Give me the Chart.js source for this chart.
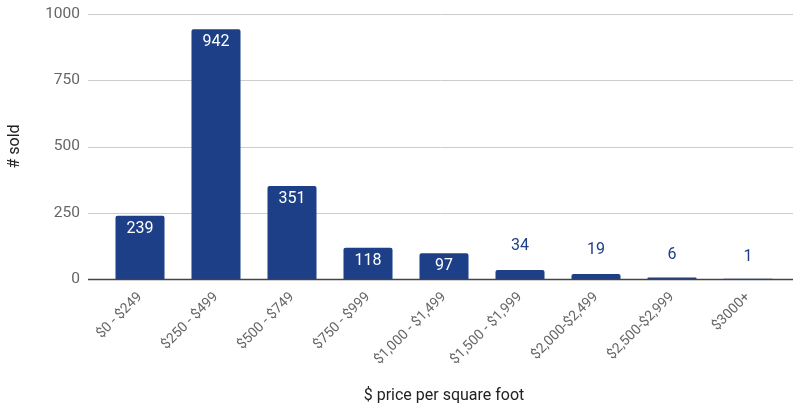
<!DOCTYPE html>
<html>
<head>
<meta charset="utf-8">
<script src="https://cdn.jsdelivr.net/npm/chart.js@4.4.1/dist/chart.umd.min.js"></script>
<style>
  html, body { margin: 0; padding: 0; background: #fff; }
  #wrap { width: 793px; height: 410px; }
</style>
</head>
<body>
<div id="wrap"><canvas id="myChart"></canvas></div>
<script>
// data
var categories = ["$0 - $249", "$250 - $499", "$500 - $749", "$750 - $999", "$1,000 - $1,499",
  "$1,500 - $1,999", "$2,000-$2,499", "$2,500-$2,999", "$3000+"];
var sold = [239, 942, 351, 118, 97, 34, 19, 6, 1];
var yTicks = [0, 250, 500, 750, 1000];

var barColor = "#1c3f87";
var font = "Roboto, 'Noto Sans', sans-serif";

// gridlines run wider than the chart area, like the original
var gridPlugin = {
  id: "grid",
  beforeDatasetsDraw: function (chart) {
    var ctx = chart.ctx, y = chart.scales.y;
    ctx.save();
    ctx.strokeStyle = "#cccccc";
    ctx.lineWidth = 1;
    yTicks.forEach(function (v) {
      if (v === 0) return;
      var py = Math.round(y.getPixelForValue(v)) + 0.5;
      ctx.beginPath();
      ctx.moveTo(88, py);
      ctx.lineTo(793, py);
      ctx.stroke();
    });
    ctx.restore();
  },
  afterDatasetsDraw: function (chart) {
    var ctx = chart.ctx, y = chart.scales.y;
    ctx.save();
    // baseline
    var py = Math.round(y.getPixelForValue(0)) + 0.5;
    ctx.strokeStyle = "#444444";
    ctx.lineWidth = 1.3;
    ctx.beginPath();
    ctx.moveTo(88, py);
    ctx.lineTo(793, py);
    ctx.stroke();
    // value labels
    ctx.font = "16px " + font;
    ctx.textAlign = "center";
    ctx.textBaseline = "middle";
    chart.getDatasetMeta(0).data.forEach(function (bar, i) {
      var h = bar.base - bar.y;
      if (h > 20) {
        ctx.fillStyle = "#ffffff";
        ctx.fillText(sold[i], bar.x, bar.y + 13);
      } else {
        ctx.fillStyle = barColor;
        ctx.fillText(sold[i], bar.x, bar.y - 24 + (h < 5 ? 2 : 0));
      }
    });
    ctx.restore();
  }
};

function noPad(scale) {
  scale.paddingTop = 0;
  scale.paddingBottom = 0;
  scale.paddingLeft = 0;
  scale.paddingRight = 0;
}

var ctx = document.getElementById("myChart");
var myChart = new Chart(ctx, {
  type: "bar",
  data: {
    labels: categories,
    datasets: [{
      label: "# sold",
      data: sold,
      backgroundColor: barColor,
      borderRadius: 2,
      borderSkipped: "bottom",
      barPercentage: 0.645,
      categoryPercentage: 1
    }]
  },
  options: {
    responsive: true,
    maintainAspectRatio: false,
    animation: false,
    layout: { padding: { top: 14, right: 7, bottom: 4, left: 5 } },
    plugins: { legend: { display: false }, tooltip: { enabled: false } },
    scales: {
      x: {
        grid: { display: false, drawTicks: false },
        border: { display: false },
        ticks: {
          color: "#666666",
          font: { family: font, size: 14 },
          minRotation: 45,
          maxRotation: 45,
          padding: 10
        },
        title: {
          display: true,
          text: "$ price per square foot",
          color: "#222222",
          font: { family: font, size: 16 },
          padding: { top: 0, bottom: 0 }
        },
        afterFit: function (scale) { scale.height = 127; noPad(scale); }
      },
      y: {
        min: 0,
        max: 1000,
        grid: { display: false, drawTicks: false },
        border: { display: false },
        afterBuildTicks: function (scale) {
          scale.ticks = yTicks.map(function (v) { return { value: v }; });
        },
        ticks: {
          color: "#666666",
          font: { family: font, size: 15.5 },
          padding: 22,
          callback: function (v) { return String(v); }
        },
        title: {
          display: true,
          text: "# sold",
          color: "#222222",
          font: { family: font, size: 16 },
          padding: { top: 0, bottom: 0 }
        },
        afterFit: function (scale) { scale.width = 97; noPad(scale); }
      }
    }
  },
  plugins: [gridPlugin]
});
</script>
</body>
</html>
